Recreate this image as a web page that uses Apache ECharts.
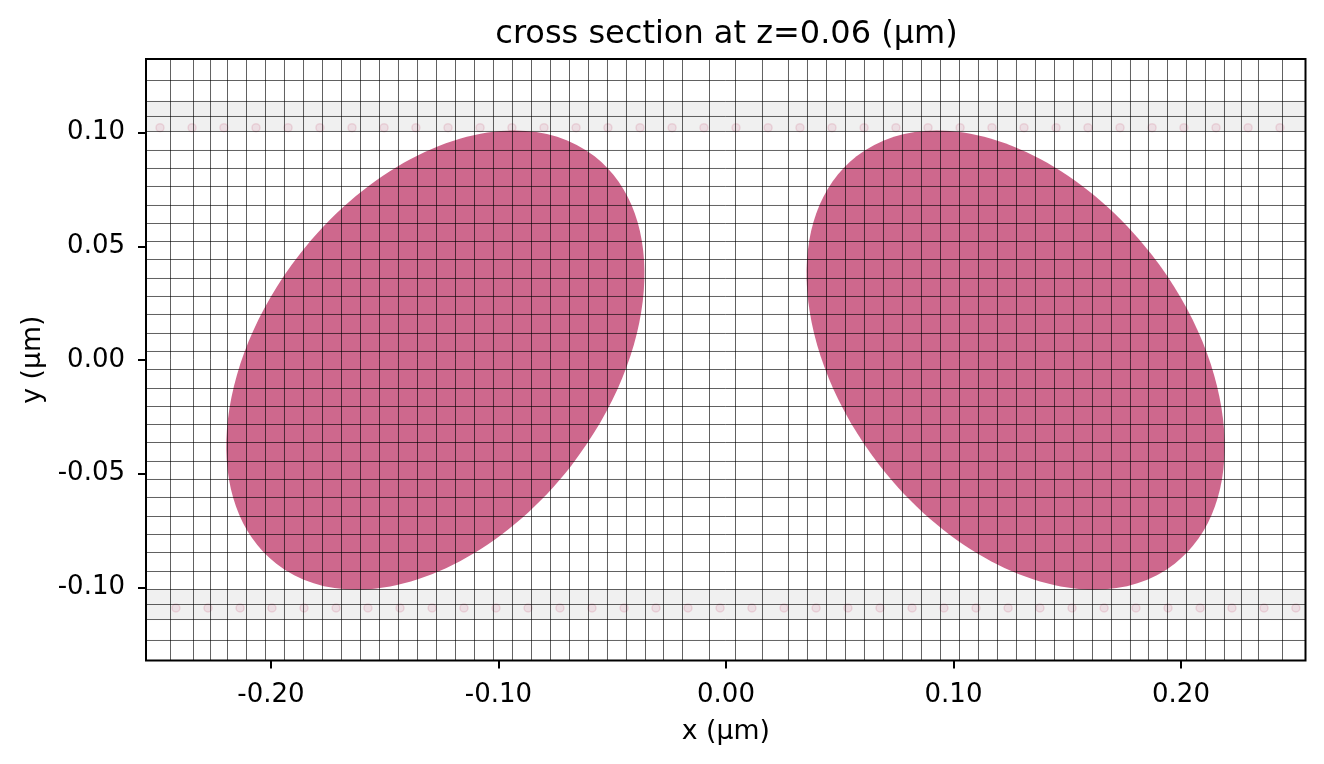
<!DOCTYPE html>
<html>
<head>
<meta charset="utf-8">
<style>html,body{margin:0;padding:0;background:#fff}#c{width:1324px;height:764px}</style>
<script src="https://cdn.jsdelivr.net/npm/echarts@6/dist/echarts.min.js"></script>
</head>
<body>
<div id="c"></div>
<script>
const xRange = [-0.25495, 0.25473];
const yRange = [-0.13220, 0.13242];
const xTicks = [-0.2, -0.1, 0, 0.1, 0.2];
const yTicks = [-0.1, -0.05, 0, 0.05, 0.1];

// mesh lines (µm)
const meshX = [-0.24418,-0.23407,-0.22659,-0.21912,-0.21077,-0.20242,-0.19407,-0.18571,-0.17736,-0.16901,-0.16066,-0.15231,-0.14396,-0.13560,-0.12725,-0.11890,-0.11055,-0.10220,-0.09385,-0.08549,-0.07714,-0.06879,-0.06044,-0.05209,-0.04374,-0.03538,-0.02747,-0.01912,-0.00725,0.00418,0.01604,0.02747,0.03582,0.04418,0.05253,0.06088,0.06923,0.07758,0.08593,0.09429,0.10264,0.11099,0.11934,0.12769,0.13604,0.14440,0.15275,0.16110,0.16945,0.17780,0.18571,0.19407,0.20242,0.21077,0.21912,0.22659,0.23407,0.24462];
const meshY = [0.12296,0.11373,0.10713,0.10053,0.09217,0.08425,0.07633,0.06797,0.06005,0.05213,0.04421,0.03586,0.02794,0.02002,0.01166,0.00374,-0.00418,-0.01254,-0.02046,-0.02838,-0.03630,-0.04465,-0.05257,-0.06049,-0.06885,-0.07677,-0.08469,-0.09305,-0.10097,-0.10757,-0.11417,-0.12340];

// grey substrate bands [low, high]
const bands = [[0.10053,0.11373],[-0.11417,-0.10097]];

// source dots
const dotsTopX = [-0.2488,-0.2347,-0.2207,-0.2066,-0.1925,-0.1785,-0.1644,-0.1503,-0.1363,-0.1222,-0.1081,-0.0941,-0.0800,-0.0659,-0.0519,-0.0378,-0.0237,-0.0097,0.0044,0.0185,0.0325,0.0466,0.0607,0.0747,0.0888,0.1029,0.1169,0.1310,0.1451,0.1591,0.1732,0.1873,0.2013,0.2154,0.2295,0.2435];
const dotsTopY = 0.1022;
const dotsBottomX = [-0.2558,-0.2418,-0.2277,-0.2136,-0.1996,-0.1855,-0.1714,-0.1574,-0.1433,-0.1292,-0.1152,-0.1011,-0.0870,-0.0730,-0.0589,-0.0448,-0.0308,-0.0167,-0.0026,0.0114,0.0255,0.0396,0.0536,0.0677,0.0818,0.0958,0.1099,0.1240,0.1380,0.1521,0.1662,0.1802,0.1943,0.2084,0.2224,0.2365,0.2505];
const dotsBottomY = -0.1091;

// ellipses: centre x, centre y, semi-major, semi-minor, rotation in degrees
const ellipseLeft = [-0.1277, 0, 0.1136, 0.0757, 52];
const ellipseRight = [0.1273, 0, 0.1136, 0.0757, -52];

const chart = echarts.init(document.getElementById('c'), null, {renderer:'canvas'});
const FONT = '"DejaVu Sans"';

function axisCommon(ticks, margin, padding){
  return {
    type:'value', scale:true, splitLine:{show:false},
    axisLine:{show:false, onZero:false},
    axisTick:{show:true, customValues:ticks, length:8, lineStyle:{color:'#000',width:2}},
    axisLabel:{show:true, customValues:ticks, color:'#000', fontFamily:FONT, fontSize:26, margin:margin, padding:padding,
      formatter:v=>Number(v).toFixed(2)},
    nameLocation:'middle',
    nameTextStyle:{color:'#000',fontFamily:FONT,fontSize:26.7}
  };
}

chart.setOption({
  animation:false,
  backgroundColor:'#fff',
  title:{text:'cross section at z=0.06 (µm)', left:721.5, top:14, textAlign:'center',
    textStyle:{color:'#000',fontFamily:FONT,fontSize:32,fontWeight:'normal'}},
  grid:{left:146, top:59, width:1159.5, height:601.5, containLabel:false},
  xAxis:Object.assign(axisCommon(xTicks,22,0),{min:xRange[0],max:xRange[1],name:'x (µm)',nameGap:58}),
  yAxis:Object.assign(axisCommon(yTicks,21,[8,0,0,0]),{min:yRange[0],max:yRange[1],name:'y (µm)',nameGap:94}),
  series:[
    {type:'custom', z:1, silent:true, data:bands, encode:{x:[],y:[0,1]},
      renderItem:(p,api)=>{
        const a=api.coord([xRange[0],api.value(1)]), b=api.coord([xRange[1],api.value(0)]);
        return {type:'rect',shape:{x:a[0],y:a[1],width:b[0]-a[0],height:b[1]-a[1]},style:{fill:'#f0f0f0'}};
      }},
    {type:'custom', z:2, silent:true, data:[ellipseLeft,ellipseRight], encode:{x:0,y:1},
      renderItem:(p,api)=>{
        const c=api.coord([api.value(0),api.value(1)]);
        const s=api.size([api.value(2),api.value(3)]);
        return {type:'ellipse',x:c[0],y:c[1],rotation:api.value(4)*Math.PI/180,
          shape:{cx:0,cy:0,rx:s[0],ry:s[1]},style:{fill:'#ce688d'}};
      }},
    {type:'scatter', z:3, silent:true, symbolSize:8, clip:true,
      itemStyle:{color:'rgba(206,104,141,0.16)',borderColor:'rgba(200,90,120,0.2)',borderWidth:1.5},
      data:dotsTopX.map(x=>[x,dotsTopY])},
    {type:'scatter', z:3, silent:true, symbolSize:8, clip:true,
      itemStyle:{color:'rgba(206,104,141,0.16)',borderColor:'rgba(200,90,120,0.2)',borderWidth:1.5},
      data:dotsBottomX.map(x=>[x,dotsBottomY])},
    {type:'custom', z:4, silent:true, data:meshX.map(x=>[x]), encode:{x:0,y:[]},
      renderItem:(p,api)=>{
        const a=api.coord([api.value(0),yRange[1]]), b=api.coord([api.value(0),yRange[0]]);
        return {type:'line',shape:{x1:a[0],y1:a[1],x2:b[0],y2:b[1]},style:{stroke:'rgba(0,0,0,0.62)',lineWidth:1}};
      }},
    {type:'custom', z:4, silent:true, data:meshY.map(y=>[y]), encode:{x:[],y:0},
      renderItem:(p,api)=>{
        const a=api.coord([xRange[0],api.value(0)]), b=api.coord([xRange[1],api.value(0)]);
        return {type:'line',shape:{x1:a[0],y1:a[1],x2:b[0],y2:b[1]},style:{stroke:'rgba(0,0,0,0.62)',lineWidth:1}};
      }},
    {type:'custom', z:5, silent:true, clip:false, data:[[xRange[0],yRange[1],xRange[1],yRange[0]]], encode:{x:[0,2],y:[1,3]},
      renderItem:(p,api)=>{
        const a=api.coord([api.value(0),api.value(1)]), b=api.coord([api.value(2),api.value(3)]);
        return {type:'rect',shape:{x:a[0],y:a[1],width:b[0]-a[0],height:b[1]-a[1]},style:{fill:'none',stroke:'#000',lineWidth:2}};
      }}
  ]
});
</script>
</body>
</html>
